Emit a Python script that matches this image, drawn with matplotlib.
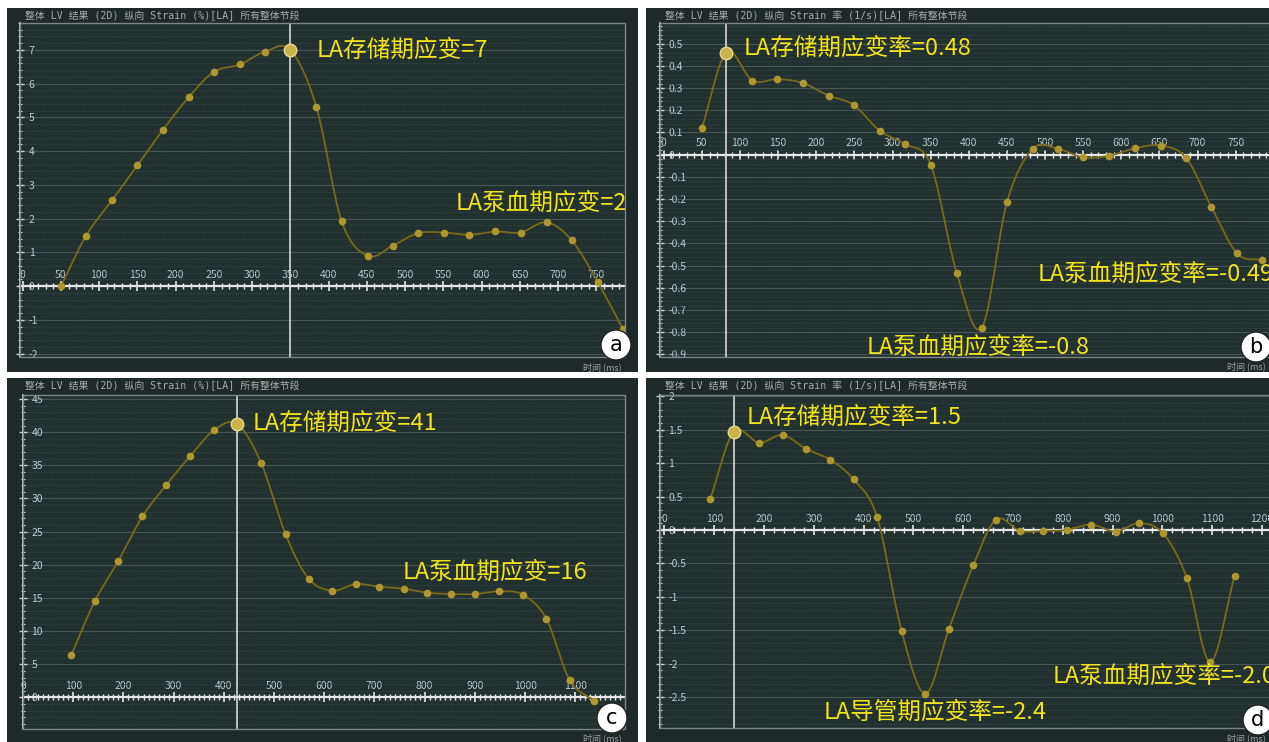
import numpy as np
import matplotlib
matplotlib.use("Agg")
import matplotlib.pyplot as plt
from matplotlib.patches import Rectangle
from matplotlib.ticker import MultipleLocator, FuncFormatter

plt.rcParams['font.family'] = ['Noto Sans CJK SC', 'DejaVu Sans']

W, H = 1269, 742

# panel a: LA strain (%)
a_x = [50, 83, 117, 150, 183, 217, 250, 284, 317, 350, 384, 417, 451, 484, 517, 551, 584, 618, 651, 685, 718, 752, 785]
a_y = [0, 1.5, 2.55, 3.58, 4.62, 5.6, 6.35, 6.57, 6.95, 7.0, 5.32, 1.93, 0.9, 1.2, 1.57, 1.59, 1.52, 1.62, 1.59, 1.89, 1.36, 0.12, -1.27]

# panel b: LA strain rate (1/s)
b_x = [50, 82, 116, 149, 182, 216, 249, 283, 316, 350, 384, 417, 450, 484, 517, 550, 584, 618, 652, 685, 718, 752, 785]
b_y = [0.12, 0.46, 0.334, 0.34, 0.323, 0.266, 0.224, 0.108, 0.048, -0.045, -0.531, -0.78, -0.214, 0.026, 0.026, -0.012, -0.005, 0.029, 0.041, -0.015, -0.235, -0.445, -0.475]

# panel c: LA strain (%)
c_x = [96, 143, 190, 238, 285, 333, 380, 426, 474, 523, 569, 616, 663, 710, 759, 805, 852, 901, 948, 995, 1042, 1089, 1137]
c_y = [6.4, 14.5, 20.6, 27.3, 32.0, 36.4, 40.25, 41.26, 35.4, 24.6, 17.9, 16.1, 17.1, 16.7, 16.4, 15.8, 15.6, 15.6, 16.0, 15.5, 11.9, 2.6, -0.5]

# panel d: LA strain rate (1/s)
d_x = [92, 139, 190, 237, 285, 333, 380, 427, 476, 524, 571, 620, 666, 714, 761, 808, 857, 906, 953, 1001, 1049, 1096, 1145]
d_y = [0.465, 1.465, 1.305, 1.42, 1.21, 1.05, 0.755, 0.19, -1.51, -2.45, -1.485, -0.53, 0.155, -0.015, -0.015, 0, 0.08, -0.024, 0.1, -0.05, -0.72, -1.975, -0.685]

title_strain = "整体 LV 结果 (2D) 纵向 Strain (%)[LA] 所有整体节段"
title_rate = "整体 LV 结果 (2D) 纵向 Strain 率 (1/s)[LA] 所有整体节段"

a_notes = [(384, 7.0, "LA存储期应变=7"), (566, 2.46, "LA泵血期应变=2")]
b_notes = [(105, 0.48, "LA存储期应变率=0.48"), (490, -0.537, "LA泵血期应变率=-0.49"),
           (266, -0.866, "LA泵血期应变率=-0.8")]
c_notes = [(458, 41.3, "LA存储期应变=41"), (756, 18.9, "LA泵血期应变=16")]
d_notes = [(164, 1.69, "LA存储期应变率=1.5"), (319, -2.73, "LA导管期应变率=-2.4"),
           (780, -2.19, "LA泵血期应变率=-2.0")]

BG = '#1f2929'
PLOT_BG = '#233030'
LINE = '#7a6a1c'
DOT = '#ac982e'
NOTE = '#f2e41c'
TICK_TXT = '#c0ccd0'


def px(x, y):
    return x / W, 1 - y / H


def smooth(x, y, n=16):
    # catmull-rom curve through the points, just for drawing the line
    x = np.asarray(x, float)
    y = np.asarray(y, float)
    out = []
    for v in (x, y):
        p = np.concatenate([[2 * v[0] - v[1]], v, [2 * v[-1] - v[-2]]])
        p0, p1, p2, p3 = p[:-3], p[1:-2], p[2:-1], p[3:]
        t = np.linspace(0, 1, n, endpoint=False)[:, None]
        seg = 0.5 * (2 * p1 + (-p0 + p2) * t + (2 * p0 - 5 * p1 + 4 * p2 - p3) * t ** 2
                     + (-p0 + 3 * p1 - 3 * p2 + p3) * t ** 3)
        out.append(np.concatenate([seg.T.ravel(), [v[-1]]]))
    return out


fig = plt.figure(figsize=(W / 100, H / 100), dpi=100, facecolor='white')

# dark frames behind each panel
for (x0, y0, x1, y1) in [(7, 8, 638, 372), (646, 8, 1272, 372), (7, 378, 638, 745), (646, 378, 1272, 745)]:
    fig.patches.append(Rectangle((x0 / W, 1 - y1 / H), (x1 - x0) / W, (y1 - y0) / H,
                                 transform=fig.transFigure, fc=BG, ec='none', zorder=-5))


def panel(box, xs, ys, peak, xlim, ylim, xmaj, xmin_, ymaj, ymin_, title, notes, letter, letter_pos,
          title_pos, time_pos):
    x0, y0, x1, y1 = box
    ax = fig.add_axes([x0 / W, 1 - y1 / H, (x1 - x0) / W, (y1 - y0) / H])
    ax.set_facecolor(PLOT_BG)
    ax.set_xlim(*xlim)
    ax.set_ylim(*ylim)

    ax.spines['left'].set_visible(False)
    ax.spines['bottom'].set_visible(False)
    ax.spines['right'].set_position(('axes', 0))
    ax.spines['right'].set_color('#d0d4d4')
    ax.spines['right'].set_linewidth(1.2)
    ax.spines['top'].set_position(('data', 0))
    ax.spines['top'].set_color('#e8e8e8')
    ax.spines['top'].set_linewidth(1.6)
    ax.yaxis.set_ticks_position('right')
    ax.xaxis.set_ticks_position('top')

    ax.xaxis.set_major_locator(MultipleLocator(xmaj))
    ax.xaxis.set_minor_locator(MultipleLocator(xmin_))
    ax.yaxis.set_major_locator(MultipleLocator(ymaj))
    ax.yaxis.set_minor_locator(MultipleLocator(ymin_))
    fmt = FuncFormatter(lambda v, p: '%g' % round(v, 3))
    ax.xaxis.set_major_formatter(fmt)
    ax.yaxis.set_major_formatter(fmt)
    ax.tick_params(axis='x', which='major', direction='inout', length=7, width=1.2,
                   color='#e8e8e8', labelsize=7.5, labelcolor=TICK_TXT, pad=1)
    ax.tick_params(axis='x', which='minor', direction='inout', length=5, width=1,
                   color='#e8e8e8')
    ax.tick_params(axis='y', which='major', direction='inout', length=6, width=1,
                   color='#d0d4d4', labelsize=7.5, labelcolor=TICK_TXT, pad=3)
    ax.tick_params(axis='y', which='minor', direction='inout', length=3.5, width=0.8,
                   color='#d0d4d4')

    ax.yaxis.grid(True, which='major', color='#4a5656', lw=0.8)
    ax.yaxis.grid(True, which='minor', color='#344141', lw=0.6, ls=(0, (2, 1)))
    ax.set_axisbelow(True)

    ax.add_patch(Rectangle((0, 0), 1, 1, transform=ax.transAxes, fill=False,
                           ec='#7d8585', lw=1, clip_on=False, zorder=5))

    ax.axvline(xs[peak], color='#d8d8d8', lw=1.2, zorder=3)
    sx, sy = smooth(xs, ys)
    ax.plot(sx, sy, color=LINE, lw=1.3, zorder=4)
    ax.plot(xs, ys, 'o', ms=4.5, color=DOT, zorder=4)
    ax.plot(xs[peak], ys[peak], 'o', ms=9, mfc='#c8b44a', mec='#e6da8e', mew=1, zorder=6)

    for nx, ny, s in notes:
        ax.text(nx, ny, s, color=NOTE, fontsize=17, ha='left', va='center', zorder=7)

    fig.text(*px(*title_pos), title, fontsize=7.1, family=['DejaVu Sans Mono', 'Noto Sans CJK SC'],
             color='#a8acac', ha='left', va='center')
    fig.text(*px(*time_pos), "时间 (ms)", fontsize=6.5, color='#a0a4a4', ha='right', va='center')
    fig.text(*px(*letter_pos), letter, fontsize=15, family=['DejaVu Sans'], color='black',
             ha='center', va='center', zorder=10,
             bbox=dict(boxstyle='circle,pad=0.24', fc='white', ec='#222222', lw=1))
    return ax


panel((20.4, 23, 624.5, 357), a_x, a_y, 9, (-3, 787), (-2.1, 7.8), 50, 10, 1, 0.2,
      title_strain, a_notes, 'a', (616, 345), (25, 15.5), (622, 367))
panel((660, 23, 1270, 356.7), b_x, b_y, 1, (-5, 795), (-0.91, 0.593), 50, 10, 0.1, 0.02,
      title_rate, b_notes, 'b', (1256, 347), (665, 15.5), (1266, 366))
panel((23, 395, 624.5, 729.3), c_x, c_y, 7, (0, 1198), (-4.8, 45.6), 100, 10, 5, 1,
      title_strain, c_notes, 'c', (612, 718), (25, 385.5), (622, 738))
panel((660, 395, 1275, 728.3), d_x, d_y, 1, (-9, 1226), (-2.97, 2.02), 100, 20, 0.5, 0.1,
      title_rate, d_notes, 'd', (1258, 720), (665, 385.5), (1266, 738))

fig.savefig('out.png', dpi=100, facecolor='white')
